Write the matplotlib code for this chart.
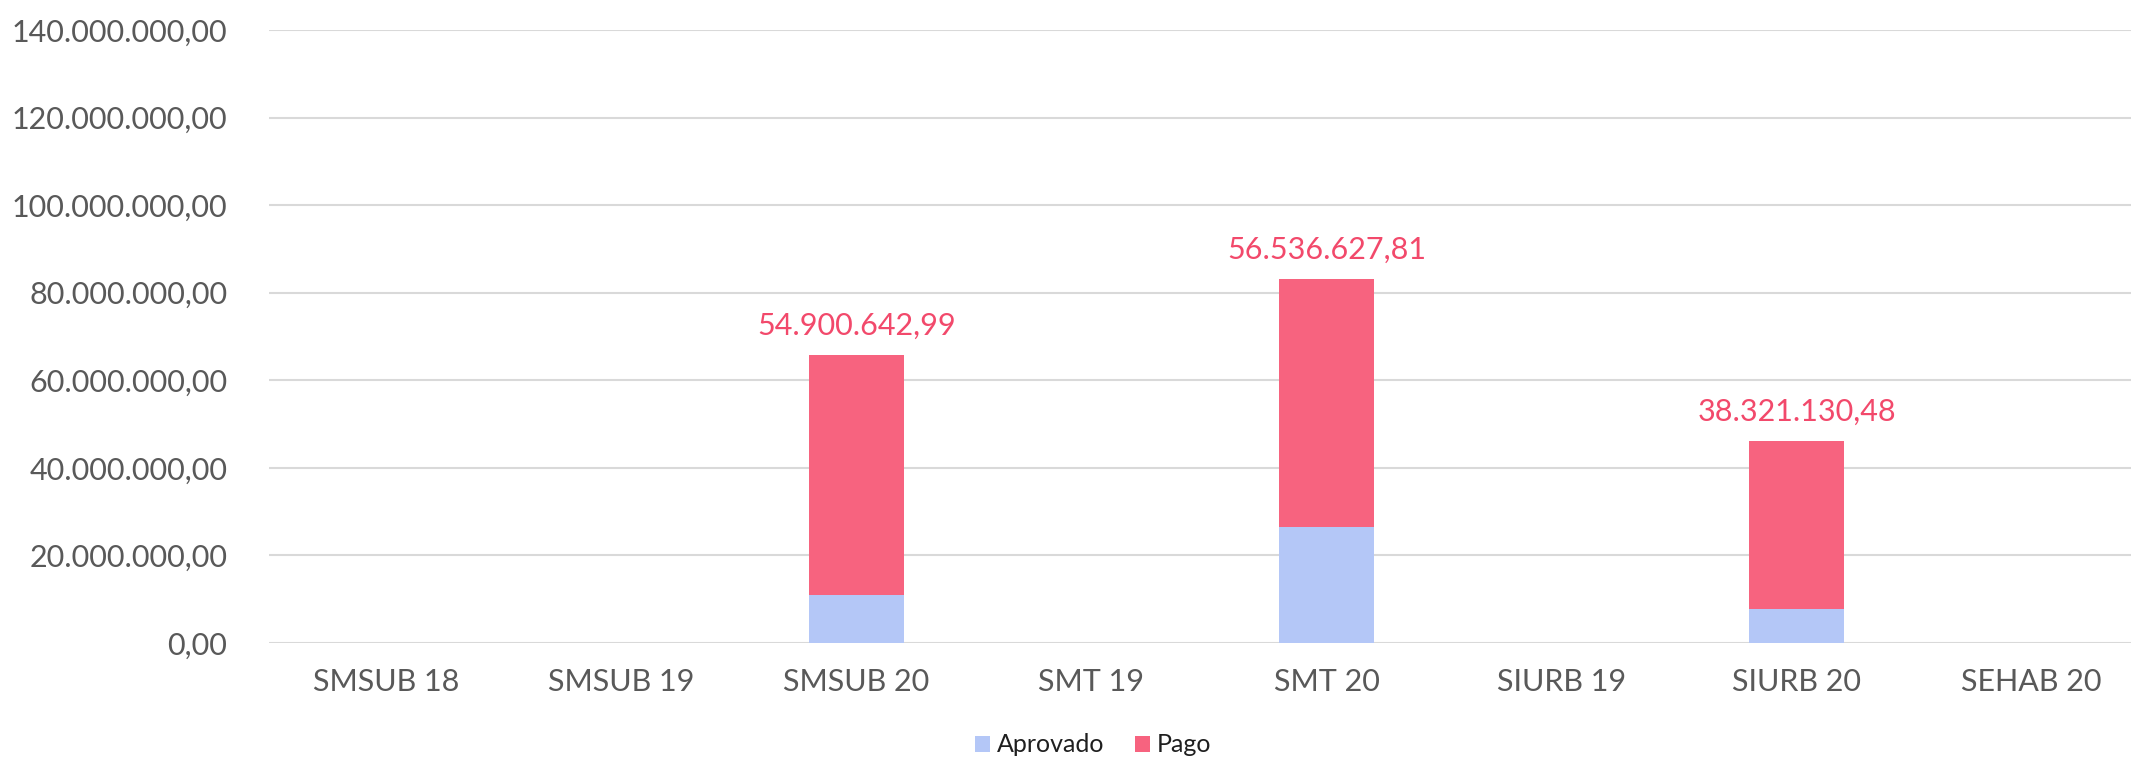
import matplotlib
matplotlib.use('Agg')
import matplotlib.pyplot as plt
import numpy as np

plt.rcParams['font.family'] = ['Lato', 'DejaVu Sans']

categorias = ['SMSUB 18', 'SMSUB 19', 'SMSUB 20', 'SMT 19', 'SMT 20', 'SIURB 19', 'SIURB 20', 'SEHAB 20']
aprovado = [0, 0, 10870000, 0, 26500000, 0, 7750000, 0]
pago = [0, 0, 54900642.99, 0, 56536627.81, 0, 38321130.48, 0]
rotulos_pago = ['', '', '54.900.642,99', '', '56.536.627,81', '', '38.321.130,48', '']
y_ticks = [0, 20e6, 40e6, 60e6, 80e6, 100e6, 120e6, 140e6]


def formata_br(valor):
    """formato brasileiro: 1.000.000,00"""
    s = f'{valor:,.2f}'
    return s.replace(',', 'X').replace('.', ',').replace('X', '.')


cor_aprovado = '#b4c7f7'
cor_pago = '#f7637f'
cor_texto = '#595959'

fig = plt.figure(figsize=(21.31, 7.58), dpi=100)
ax = fig.add_axes([269 / 2131, 115 / 758, 1880 / 2131, 613 / 758])

x = np.arange(len(categorias))
ax.bar(x, aprovado, width=0.404, color=cor_aprovado, label='Aprovado', zorder=3)
ax.bar(x, pago, width=0.404, bottom=aprovado, color=cor_pago, label='Pago', zorder=3)

for i, txt in enumerate(rotulos_pago):
    if txt:
        ax.annotate(txt, (x[i], aprovado[i] + pago[i]), xytext=(0, 11), textcoords='offset points',
                    ha='center', va='bottom', fontsize=22, color='#f2496b')

ax.set_xlim(-0.5, len(categorias) - 0.5)
ax.set_ylim(0, 140e6)
ax.set_yticks(y_ticks)
ax.set_yticklabels([formata_br(v) for v in y_ticks])
ax.set_xticks(x)
ax.set_xticklabels(categorias)

ax.tick_params(axis='y', length=0, pad=30, labelsize=22, labelcolor=cor_texto)
ax.tick_params(axis='x', length=0, pad=18, labelsize=22, labelcolor=cor_texto)
ax.grid(axis='y', color='#d9d9d9', linewidth=1.5, zorder=0)
for spine in ax.spines.values():
    spine.set_visible(False)

fig.legend(loc='center', bbox_to_anchor=(1093 / 2131, 13 / 758), ncol=2, frameon=False,
           fontsize=18, handlelength=0.6, handleheight=0.6, handletextpad=0.3, columnspacing=1.2,
           labelcolor='#1f1f1f')

plt.savefig('out.png', dpi=100)
plt.close()
